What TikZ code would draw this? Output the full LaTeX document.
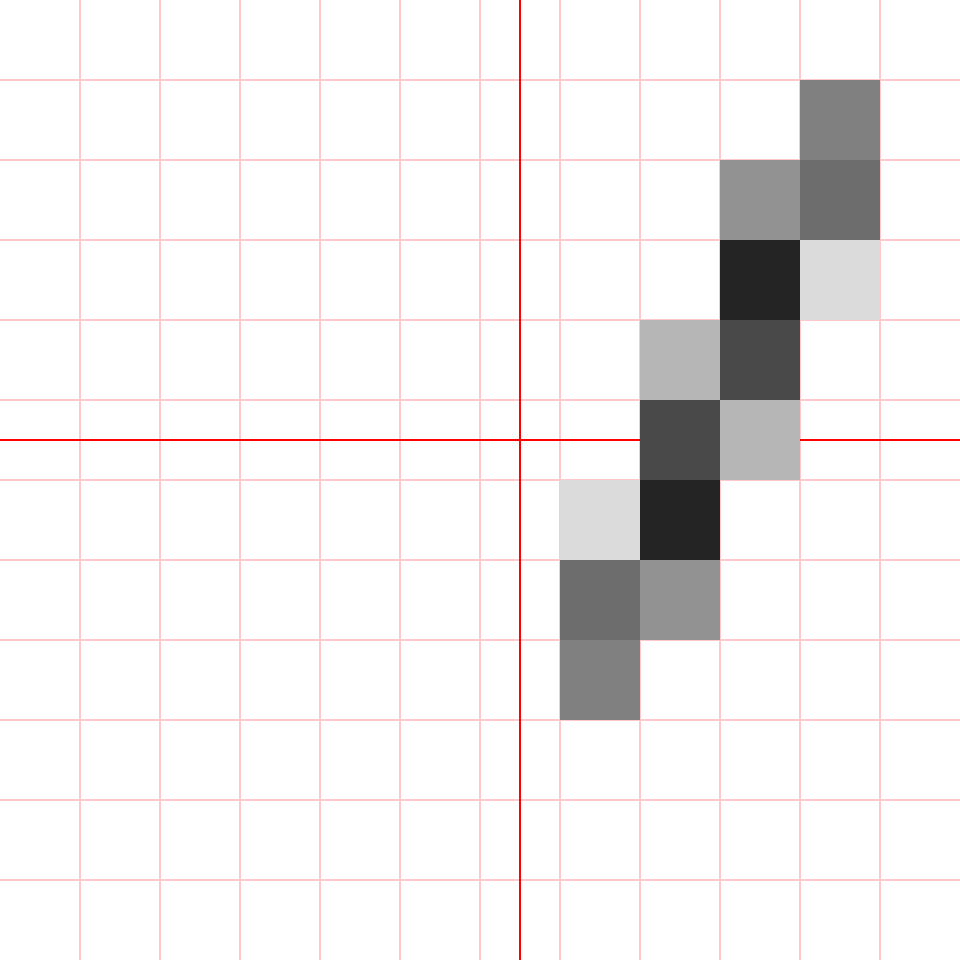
\documentclass[tikz,border=0pt]{standalone}
\usepackage{xcolor}
\usepackage{tikz}

\begin{document}
\begin{tikzpicture}[gridline/.style={draw=red!22, line width=0.5pt},
  axisline/.style={draw=red, line width=0.8pt},
  pixelbox/.style={fill=black!#1}]
\useasboundingbox[fill=white] (-6.5,-6.5) rectangle (5.5,5.5);
% pixel grid, lines between pixel centres
\foreach \g in {-5.5,-4.5,...,4.6} {
  \draw[gridline] (\g,-6.5) -- (\g,5.5);
  \draw[gridline] (-6.5,\g) -- (5.5,\g);
}
\draw[axisline] (-6.5,0) -- (5.5,0);
\draw[axisline] (0,-6.5) -- (0,5.5);
% covered pixels: x / y / coverage in percent
\foreach \px/\py/\cov in {1/-3/50, 1/-2/57.1, 2/-2/42.9, 1/-1/14.3, 2/-1/85.7,
    2/0/71.4, 3/0/28.6, 2/1/28.6, 3/1/71.4, 3/2/85.7, 4/2/14.3,
    3/3/42.9, 4/3/57.1, 4/4/50} {
  \fill[pixelbox=\cov] (\px-0.5,\py-0.5) rectangle ++(1,1);
}
\end{tikzpicture}
\end{document}
